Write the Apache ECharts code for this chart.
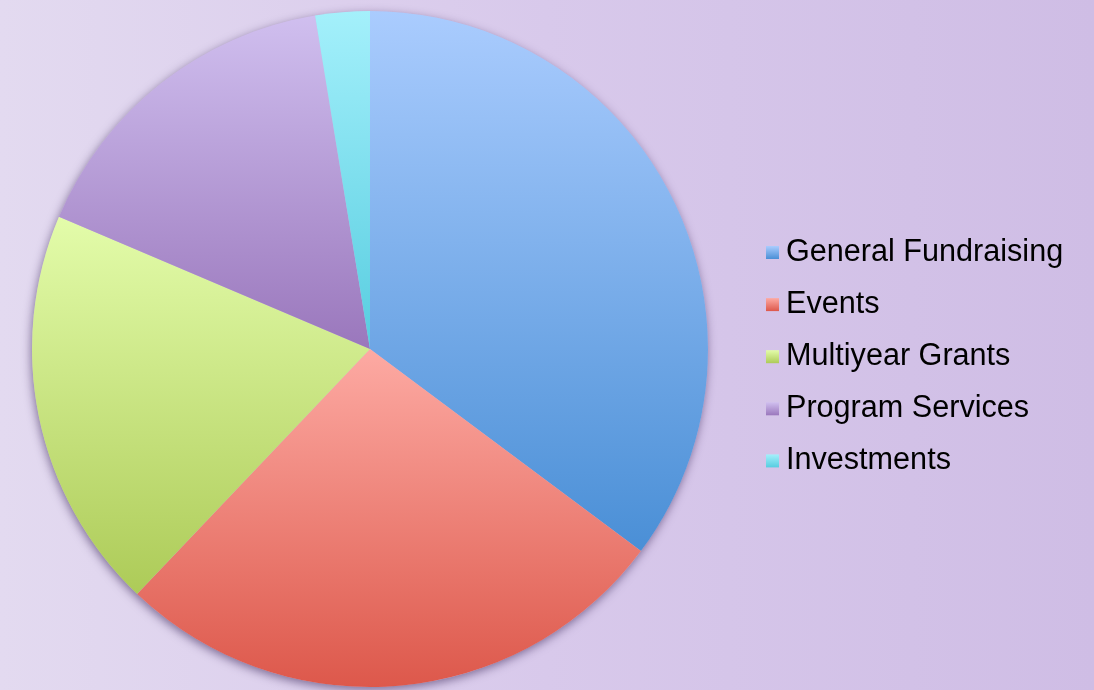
<!DOCTYPE html>
<html>
<head>
<meta charset="utf-8">
<script src="https://cdn.jsdelivr.net/npm/echarts@6/dist/echarts.min.js"></script>
<style>
  html, body { margin: 0; padding: 0; }
  #chart { width: 1094px; height: 690px; background: linear-gradient(to right, #E3DAF0 0%, #D8C9EB 50%, #CFBDE5 100%); }
</style>
</head>
<body>
<div id="chart"></div>
<script>
const categories = ['General Fundraising', 'Events', 'Multiyear Grants', 'Program Services', 'Investments'];
const values = [35.2, 26.9, 19.3, 16.0, 2.6];
const topColors = ['#AACCFE', '#FDAAA3', '#E3FCAA', '#D0BFEF', '#A4F0FB'];
const bottomColors = ['#4A8FD6', '#DD584B', '#ADCB58', '#9A77BC', '#57CDE0'];

function grad(i) {
  return new echarts.graphic.LinearGradient(0, 0, 0, 1, [
    { offset: 0, color: topColors[i] },
    { offset: 1, color: bottomColors[i] }
  ]);
}

const chart = echarts.init(document.getElementById('chart'), null, { renderer: 'canvas' });
chart.setOption({
  backgroundColor: 'transparent',
  animation: false,
  legend: {
    orient: 'vertical',
    left: 766,
    top: 237,
    padding: 0,
    itemWidth: 13,
    itemHeight: 13,
    itemGap: 21.1,
    icon: 'rect',
    data: categories,
    textStyle: {
      fontFamily: 'Liberation Sans, Arial, sans-serif',
      fontSize: 30.6,
      color: '#000',
      padding: [0, 0, 0, 2]
    }
  },
  series: [
    {
      type: 'pie',
      silent: true,
      center: [370, 349],
      radius: 338,
      label: { show: false },
      legendHoverLink: false,
      data: [{ value: 1, name: '_shadow', itemStyle: {
        color: '#c8b6de',
        shadowBlur: 10,
        shadowColor: 'rgba(50, 30, 80, 0.55)',
        shadowOffsetX: -1,
        shadowOffsetY: 3
      } }],
      z: 1
    },
    {
      type: 'pie',
      center: [370, 349],
      radius: 338,
      startAngle: 90,
      clockwise: true,
      label: { show: false },
      labelLine: { show: false },
      itemStyle: { borderWidth: 0 },
      data: categories.map((c, i) => ({ name: c, value: values[i], itemStyle: { color: grad(i) } })),
      z: 2
    }
  ]
});
</script>
</body>
</html>
